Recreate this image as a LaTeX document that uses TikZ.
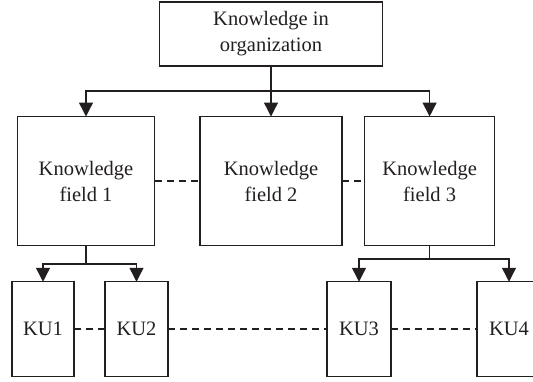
\documentclass[tikz,border=0pt]{standalone}
\usepackage{fontspec}
\setmainfont{Liberation Serif}
\usetikzlibrary{arrows.meta,calc}
\definecolor{ink}{RGB}{35,31,32}
\begin{document}
\begin{tikzpicture}[x=1pt,y=-1pt,
  every node/.style={inner sep=0pt, outer sep=0pt, text=ink,
    font=\fontsize{20.5}{26}\selectfont, align=center},
  box/.style={draw=ink, line width=1.4pt, rectangle},
  arr/.style={draw=ink, line width=1.4pt, -{Triangle[length=14pt,width=14pt]}},
  link/.style={draw=ink, line width=1.4pt, dash pattern=on 7pt off 5pt}]
\useasboundingbox (0,0) rectangle (533,381);
\clip (0,0) rectangle (533,381);

% root
\node[box, minimum width=223pt, minimum height=64pt] (top) at (271,34)
  {Knowledge in\\organization};

% knowledge fields
\node[box, minimum width=137pt, minimum height=129pt] (f1) at (86,181)
  {Knowledge\\field 1};
\node[box, minimum width=142pt, minimum height=129pt] (f2) at (271,181)
  {Knowledge\\field 2};
\node[box, minimum width=130pt, minimum height=129pt] (f3) at (429.6,181)
  {Knowledge\\field 3};

% knowledge units
\node[box, minimum width=62pt, minimum height=94.5pt] (ku1) at (43,329) {KU1};
\node[box, minimum width=63pt, minimum height=94.5pt] (ku2) at (136.5,329) {KU2};
\node[box, minimum width=64pt, minimum height=94.5pt] (ku3) at (359,329) {KU3};
\node[box, minimum width=64pt, minimum height=94.5pt] (ku4) at (509,329) {KU4};

% tree connectors
\coordinate (b0) at ($(top.south)+(0,25)$);
\draw[draw=ink, line width=1.4pt] (top.south) -- (b0);
\draw[arr] (b0) -| (f1.north);
\draw[arr] (b0) -- (f2.north);
\draw[arr] (b0) -| (f3.north);

\coordinate (b1) at ($(f1.south)+(0,18.5)$);
\draw[draw=ink, line width=1.4pt] (f1.south) -- (b1);
\draw[arr] (b1) -| (ku1.north);
\draw[arr] (b1) -| (ku2.north);

\coordinate (b3) at ($(f3.south)+(0,13.5)$);
\draw[draw=ink, line width=1.4pt] (f3.south) -- (b3);
\draw[arr] (b3) -| (ku3.north);
\draw[arr] (b3) -| (ku4.north);

% dashed relations
\draw[link] (f1.east) -- (f2.west);
\draw[link] (f2.east) -- (f3.west);
\draw[link] (ku1.east) -- (ku2.west);
\draw[link] (ku2.east) -- (ku3.west);
\draw[link] (ku3.east) -- (ku4.west);
\end{tikzpicture}
\end{document}
